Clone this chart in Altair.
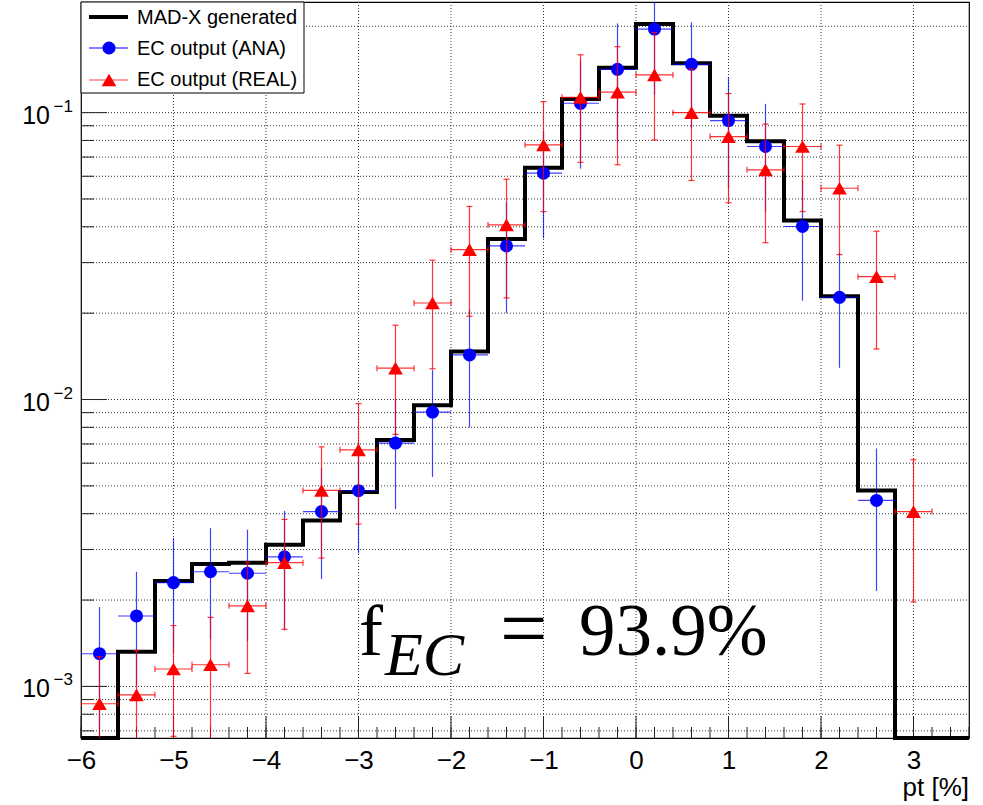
import altair as alt
import pandas as pd

# ---- histogram binning (pt in %) ----
edges = [-6.0, -5.6, -5.2, -4.8, -4.4, -4.0, -3.6, -3.2, -2.8, -2.4, -2.0, -1.6,
         -1.2, -0.8, -0.4, 0.0, 0.4, 0.8, 1.2, 1.6, 2.0, 2.4, 2.8, 3.2, 3.6]

# MAD-X generated distribution (one value per bin)
madx = [0.0, 1.32e-3, 2.33e-3, 2.67e-3, 2.70e-3, 3.12e-3, 3.79e-3, 4.76e-3,
        7.22e-3, 9.56e-3, 0.0147, 0.0363, 0.0643, 0.1116, 0.1435, 0.2037,
        0.1486, 0.0976, 0.0795, 0.0421, 0.0229, 4.82e-3, 0.0, 0.0]

# EC output (ANA)
ana_x = [-5.8, -5.4, -5.0, -4.6, -4.2, -3.8, -3.4, -3.0, -2.6, -2.2, -1.8,
         -1.4, -1.0, -0.6, -0.2, 0.2, 0.6, 1.0, 1.4, 1.8, 2.2, 2.6]
ana_y = [1.30e-3, 1.76e-3, 2.30e-3, 2.51e-3, 2.48e-3, 2.83e-3, 4.07e-3, 4.81e-3,
         7.05e-3, 9.04e-3, 0.0143, 0.0343, 0.0615, 0.1078, 0.1416, 0.1956,
         0.1474, 0.0938, 0.0762, 0.0401, 0.0227, 4.45e-3]
ana_err = [0.59e-3, 0.75e-3, 0.99e-3, 1.05e-3, 1.04e-3, 1.26e-3, 1.7e-3, 1.9e-3,
           2.9e-3, 3.67e-3, 6.3e-3, 0.0143, 0.025, 0.044, 0.063, 0.08,
           0.059, 0.039, 0.031, 0.018, 0.0098, 2.3e-3]

# EC output (REAL)
real_x = [-5.8, -5.4, -5.0, -4.6, -4.2, -3.8, -3.4, -3.0, -2.6, -2.2, -1.8,
          -1.4, -1.0, -0.6, -0.2, 0.2, 0.6, 1.0, 1.4, 1.8, 2.2, 2.6, 3.0]
real_y = [8.7e-4, 9.35e-4, 1.15e-3, 1.19e-3, 1.91e-3, 2.70e-3, 4.82e-3, 6.68e-3,
          0.01286, 0.0217, 0.0333, 0.0406, 0.0772, 0.1131, 0.1178, 0.1353,
          0.1000, 0.0825, 0.0632, 0.0762, 0.0545, 0.0268, 4.07e-3]
real_err = [0.4e-3, 0.4e-3, 0.48e-3, 0.55e-3, 0.8e-3, 1.12e-3, 2.02e-3, 3.0e-3,
            5.3e-3, 8.9e-3, 0.0138, 0.018, 0.032, 0.046, 0.052, 0.055,
            0.042, 0.034, 0.028, 0.031, 0.0225, 0.0118, 2.1e-3]

half_bin = 0.2

# axis ranges and tick positions
X_MIN, X_MAX = -6.0, 3.6
Y_MIN, Y_MAX = 6.61e-4, 0.243
x_major = [-6, -5, -4, -3, -2, -1, 0, 1, 2, 3]
x_minor = [round(-6.0 + 0.2 * i, 1) for i in range(49)]
y_major = [1e-3, 1e-2, 1e-1]
y_minor = ([7e-4, 8e-4, 9e-4] + [k * 1e-3 for k in range(2, 10)]
           + [k * 1e-2 for k in range(2, 10)] + [0.2])
y_labels = [("10", "\u22123", 1e-3), ("10", "\u22122", 1e-2), ("10", "\u22121", 1e-1)]

W, H = 888, 736
SANS = "Liberation Sans"
SERIF = "Liberation Serif"

x_scale = alt.Scale(domain=[X_MIN, X_MAX], nice=False, zero=False)
y_scale = alt.Scale(type="log", domain=[Y_MIN, Y_MAX], nice=False)
x_axis = alt.Axis(values=x_major, format="d", labelFontSize=26, labelFont=SANS,
                  labelColor="black", ticks=False, domain=False, grid=False,
                  labelPadding=9, labelFlush=False, labelOverlap=False, title=None)


def X(field):
    return alt.X(field, type="quantitative", scale=x_scale, axis=x_axis)


def Y(field):
    return alt.Y(field, type="quantitative", scale=y_scale, axis=None)


# ---- tables ----
step_rows = []
for i, v in enumerate(madx):
    step_rows.append({"x": edges[i], "y": max(v, Y_MIN)})
step_rows.append({"x": edges[-1], "y": max(madx[-1], Y_MIN)})
step_df = pd.DataFrame(step_rows)


def err_table(xs, ys, es):
    return pd.DataFrame({
        "x": xs, "y": ys,
        "xlo": [x - half_bin for x in xs], "xhi": [x + half_bin for x in xs],
        "ylo": [max(y - e, 1e-6) for y, e in zip(ys, es)],
        "yhi": [y + e for y, e in zip(ys, es)],
    })


ana_df = err_table(ana_x, ana_y, ana_err)
real_df = err_table(real_x, real_y, real_err)

xgrid_df = pd.DataFrame({"x": x_major[1:]})
ygrid_df = pd.DataFrame({"y": y_minor + y_major})
ylab_df = pd.DataFrame(y_labels, columns=["base", "exp", "y"])
one = pd.DataFrame({"k": [0]})

# ---- grid ----
grid_x = alt.Chart(xgrid_df).mark_rule(color="#333", strokeWidth=1, strokeDash=[1, 2]).encode(
    x=X("x:Q"), y=alt.value(0), y2=alt.value(H))
grid_y = alt.Chart(ygrid_df).mark_rule(color="#333", strokeWidth=1, strokeDash=[1, 2]).encode(
    y=Y("y:Q"), x=alt.value(0), x2=alt.value(W))

# ---- ticks drawn inside the frame ----
ticks_x = alt.Chart(pd.DataFrame({"x": x_minor})).mark_rule(color="#222", strokeWidth=1).encode(
    x=X("x:Q"), y=alt.value(H), y2=alt.value(H - 11))
ticks_x_major = alt.Chart(pd.DataFrame({"x": x_major})).mark_rule(color="#222", strokeWidth=1).encode(
    x=X("x:Q"), y=alt.value(H), y2=alt.value(H - 22))
ticks_y_minor = alt.Chart(pd.DataFrame({"y": y_minor})).mark_rule(color="#222", strokeWidth=1).encode(
    y=Y("y:Q"), x=alt.value(0), x2=alt.value(13))
ticks_y_major = alt.Chart(pd.DataFrame({"y": y_major})).mark_rule(color="#222", strokeWidth=1).encode(
    y=Y("y:Q"), x=alt.value(0), x2=alt.value(26))

# ---- y axis labels 10^n ----
ylab_base = alt.Chart(ylab_df).mark_text(font=SANS, fontSize=25, align="right",
                                         baseline="alphabetic", dy=11, color="black").encode(
    y=Y("y:Q"), x=alt.value(-31), text="base:N")
ylab_exp = alt.Chart(ylab_df).mark_text(font=SANS, fontSize=17, align="right",
                                        baseline="alphabetic", dy=-1, color="black").encode(
    y=Y("y:Q"), x=alt.value(-8), text="exp:N")

# ---- MAD-X histogram ----
hist = alt.Chart(step_df).mark_line(interpolate="step-after", color="black", strokeWidth=4,
                                    strokeJoin="miter", strokeCap="butt").encode(
    x=X("x:Q"), y=Y("y:Q"))

# ---- ANA points ----
ana_v = alt.Chart(ana_df).mark_rule(color="#0000ff", opacity=0.75, strokeWidth=1.2, clip=True).encode(
    x=X("x:Q"), y=Y("ylo:Q"), y2="yhi:Q")
ana_h = alt.Chart(ana_df).mark_rule(color="#0000ff", opacity=0.75, strokeWidth=1.2, clip=True).encode(
    x=X("xlo:Q"), x2="xhi:Q", y=Y("y:Q"))
ana_pt = alt.Chart(ana_df).mark_point(shape="circle", filled=True, size=170, color="#0000ff",
                                      opacity=1, clip=True).encode(x=X("x:Q"), y=Y("y:Q"))

# ---- REAL points ----
RED = "#ff0000"
real_v = alt.Chart(real_df).mark_rule(color=RED, opacity=0.8, strokeWidth=1.2, clip=True).encode(
    x=X("x:Q"), y=Y("ylo:Q"), y2="yhi:Q")
real_h = alt.Chart(real_df).mark_rule(color=RED, opacity=0.8, strokeWidth=1.2, clip=True).encode(
    x=X("xlo:Q"), x2="xhi:Q", y=Y("y:Q"))
real_cap_hi = alt.Chart(real_df).mark_rule(color=RED, opacity=0.8, strokeWidth=1.2, clip=True,
                                           xOffset=-3, x2Offset=3).encode(
    x=X("x:Q"), x2="x:Q", y=Y("yhi:Q"))
real_cap_lo = alt.Chart(real_df).mark_rule(color=RED, opacity=0.8, strokeWidth=1.2, clip=True,
                                           xOffset=-3, x2Offset=3).encode(
    x=X("x:Q"), x2="x:Q", y=Y("ylo:Q"))
real_cap_l = alt.Chart(real_df).mark_rule(color=RED, opacity=0.8, strokeWidth=1.2, clip=True,
                                          yOffset=-3, y2Offset=3).encode(
    x=X("xlo:Q"), y=Y("y:Q"), y2="y:Q")
real_cap_r = alt.Chart(real_df).mark_rule(color=RED, opacity=0.8, strokeWidth=1.2, clip=True,
                                          yOffset=-3, y2Offset=3).encode(
    x=X("xhi:Q"), y=Y("y:Q"), y2="y:Q")
real_pt = alt.Chart(real_df).mark_point(shape="triangle-up", filled=True, size=215, color=RED,
                                        opacity=1, clip=True).encode(x=X("x:Q"), y=Y("y:Q"))

# ---- efficiency annotation ----
f_main = alt.Chart(one).mark_text(text="f", font=SERIF, fontSize=72, align="left",
                                  baseline="alphabetic", color="black").encode(
    x=alt.value(278), y=alt.value(653))
f_sub = alt.Chart(one).mark_text(text="EC", font=SERIF, fontSize=62, fontStyle="italic",
                                 align="left", baseline="alphabetic", color="black").encode(
    x=alt.value(304), y=alt.value(673))
f_eq = alt.Chart(one).mark_text(text="=", font=SERIF, fontSize=84, align="left",
                                baseline="alphabetic", color="black").encode(
    x=alt.value(419), y=alt.value(655))
f_val = alt.Chart(one).mark_text(text="93.9%", font=SERIF, fontSize=73, align="left",
                                 baseline="alphabetic", color="black").encode(
    x=alt.value(498), y=alt.value(653))

# ---- axis title ----
x_title = alt.Chart(one).mark_text(text="pt [%]", font=SANS, fontSize=26, align="right",
                                   baseline="alphabetic", color="black").encode(
    x=alt.value(W), y=alt.value(794))

# ---- legend ----
leg_box = alt.Chart(one).mark_rect(fill="white", stroke="black", strokeWidth=1).encode(
    x=alt.value(0), x2=alt.value(223), y=alt.value(0), y2=alt.value(91))
leg_line0 = alt.Chart(one).mark_rule(color="black", strokeWidth=4).encode(
    x=alt.value(8), x2=alt.value(47), y=alt.value(15))
leg_line1 = alt.Chart(one).mark_rule(color="#0000ff", strokeWidth=1.2).encode(
    x=alt.value(8), x2=alt.value(47), y=alt.value(46))
leg_pt1 = alt.Chart(one).mark_point(shape="circle", filled=True, size=170, color="#0000ff",
                                    opacity=1).encode(x=alt.value(28), y=alt.value(46))
leg_line2 = alt.Chart(one).mark_rule(color="#ff8080", strokeWidth=1.5).encode(
    x=alt.value(8), x2=alt.value(47), y=alt.value(78))
leg_pt2 = alt.Chart(one).mark_point(shape="triangle-up", filled=True, size=215, color=RED,
                                    opacity=1).encode(x=alt.value(28), y=alt.value(78))
leg_names = ["MAD-X generated", "EC output (ANA)", "EC output (REAL)"]
leg_texts = [alt.Chart(one).mark_text(text=name, font=SANS, fontSize=20, align="left",
                                      baseline="alphabetic", color="black").encode(
    x=alt.value(56), y=alt.value(yb)) for name, yb in zip(leg_names, [22, 53, 84])]

chart = alt.layer(
    grid_x, grid_y, ticks_x, ticks_x_major, ticks_y_minor, ticks_y_major,
    ylab_base, ylab_exp,
    hist,
    ana_h, ana_v, ana_pt,
    real_h, real_v, real_cap_hi, real_cap_lo, real_cap_l, real_cap_r, real_pt,
    f_main, f_sub, f_eq, f_val, x_title,
    leg_box, leg_line0, leg_line1, leg_pt1, leg_line2, leg_pt2, *leg_texts,
).properties(
    width=W, height=H,
    autosize=alt.AutoSizeParams(type="none"),
    padding={"left": 81, "top": 2, "right": 14, "bottom": 67},
    background="white",
).configure_view(stroke="black", strokeWidth=1.2)

chart.save("out.html", embed_options={"renderer": "svg", "actions": False})
